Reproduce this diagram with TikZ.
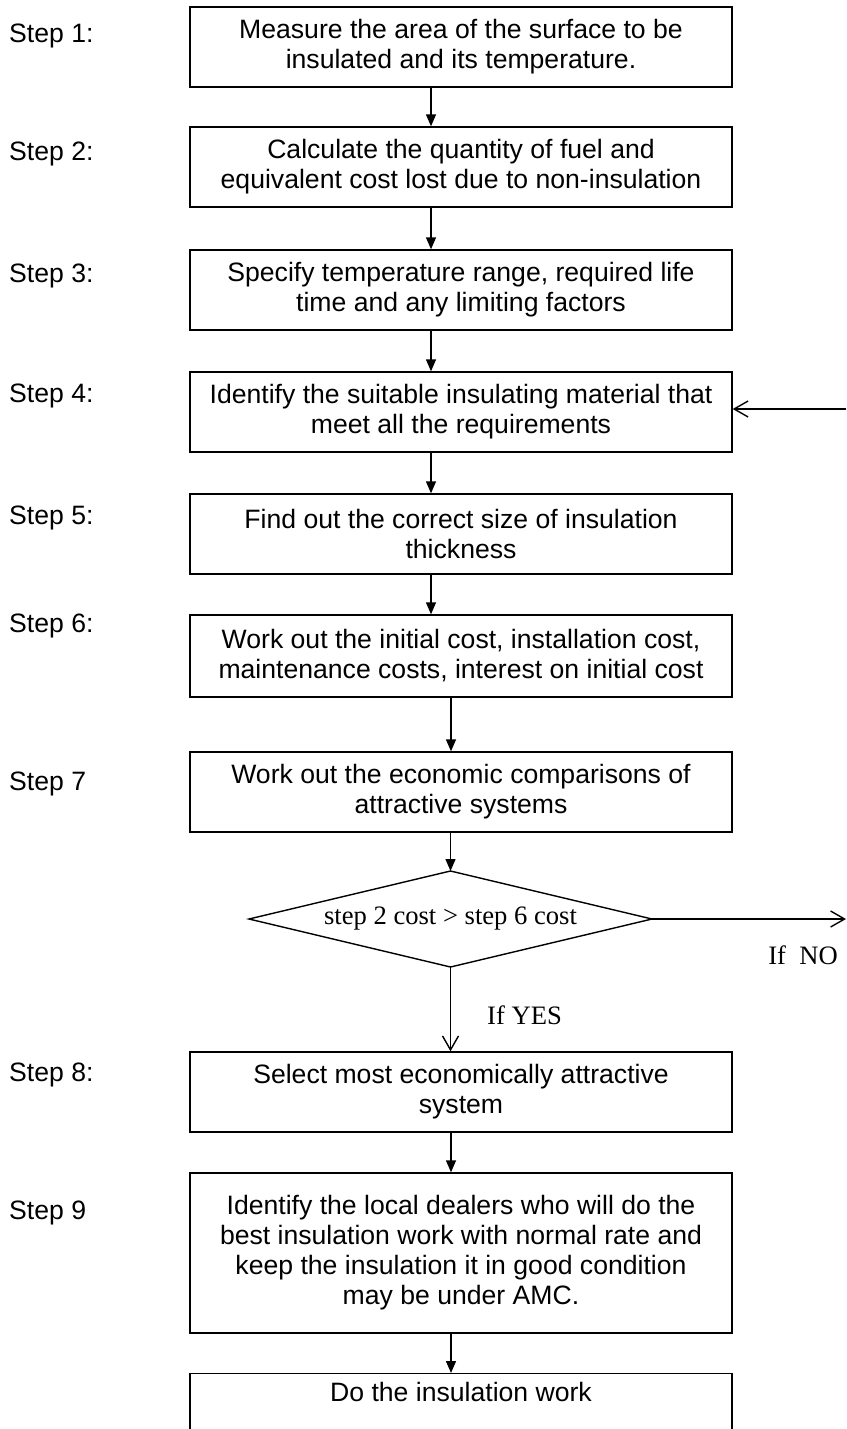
\documentclass[tikz,border=0pt]{standalone}
\usepackage{fontspec}
\setmainfont{Liberation Sans}
\newfontfamily\seriffont{Liberation Serif}
\usetikzlibrary{arrows.meta}
\begin{document}
\begin{tikzpicture}[x=1pt,y=-1pt,
  box/.style={draw, line width=1.4pt, minimum width=542pt, minimum height=80pt, inner sep=0pt, align=center, font=\fontsize{26.6}{30}\selectfont},
  plain/.style={inner sep=0pt, font=\fontsize{26.6}{30}\selectfont},
  steplabel/.style={inner sep=0pt, anchor=base west, font=\fontsize{26.6}{30}\selectfont},
  serif/.style={inner sep=0pt, font=\seriffont\fontsize{26.6}{30}\selectfont},
  arr/.style={line width=1.4pt, -{Triangle[length=12pt,width=10pt]}},
  oarr/.style={line width=1.4pt, -{Straight Barb[length=14pt,width=16pt,line width=1.4pt]}}]
\useasboundingbox (0,0) rectangle (846,1429);
\coordinate (xa) at (431,0);
\coordinate (xb) at (451,0);

\node[box] (b1) at (461,47) {Measure the area of the surface to be\\insulated and its temperature.};
\node[box] (b2) at (461,167) {Calculate the quantity of fuel and\\equivalent cost lost due to non-insulation};
\node[box] (b3) at (461,290) {Specify temperature range, required life\\time and any limiting factors};
\node[box] (b4) at (461,412) {Identify the suitable insulating material that\\meet all the requirements};
\node[box] (b5) at (461,534) {Find out the correct size of insulation\\thickness};
\node[box, minimum height=82pt] (b6) at (461,656) {Work out the initial cost, installation cost,\\maintenance costs, interest on initial cost};
\node[box] (b7) at (461,792) {Work out the economic comparisons of\\attractive systems};
\node[box] (b8) at (461,1092) {Select most economically attractive\\system};
\node[box, minimum height=160pt] (b9) at (461,1253) {Identify the local dealers who will do the\\best insulation work with normal rate and\\keep the insulation it in good condition\\may be under AMC.};
\node[box, anchor=north] (b10) at (461,1373) {};
\node[plain] (t10) at (461,1392) {Do the insulation work};

\node[steplabel] (s1) at (9,43) {Step 1:};
\node[steplabel] (s2) at (9,160) {Step 2:};
\node[steplabel] (s3) at (9,282) {Step 3:};
\node[steplabel] (s4) at (9,402) {Step 4:};
\node[steplabel] (s5) at (9,524) {Step 5:};
\node[steplabel] (s6) at (9,632) {Step 6:};
\node[steplabel] (s7) at (9,790) {Step 7};
\node[steplabel] (s8) at (9,1081) {Step 8:};
\node[steplabel] (s9) at (9,1219) {Step 9};

% decision
\coordinate (dT) at (450.5,871);
\coordinate (dB) at (450.5,967);
\coordinate (dL) at (249,919);
\coordinate (dR) at (652,919);
\draw[line width=1.4pt, line join=miter] (dT) -- (dR) -- (dB) -- (dL) -- cycle;
\node[serif] (dtext) at (450.5,919) {step 2 cost > step 6 cost};
\node[serif] (ifno) at (803,955) {If~~NO};
\node[serif, anchor=west] (ifyes) at (487,1015) {If YES};

\coordinate (noend) at (846,919);
\coordinate (in4) at (846,409);

\draw[arr] (b1.south -| xa) -- (b2.north -| xa);
\draw[arr] (b2.south -| xa) -- (b3.north -| xa);
\draw[arr] (b3.south -| xa) -- (b4.north -| xa);
\draw[arr] (b4.south -| xa) -- (b5.north -| xa);
\draw[arr] (b5.south -| xa) -- (b6.north -| xa);
\draw[arr] (b6.south -| xb) -- (b7.north -| xb);
\draw[arr] (b7.south -| dT) -- (dT);
\draw[oarr] (dB) -- (b8.north -| dB);
\draw[arr] (b8.south -| xb) -- (b9.north -| xb);
\draw[arr] (b9.south -| xb) -- (b10.north -| xb);
\draw[oarr] (dR) -- (noend);
\draw[oarr] (in4) -- (b4.east |- in4);
\end{tikzpicture}
\end{document}
